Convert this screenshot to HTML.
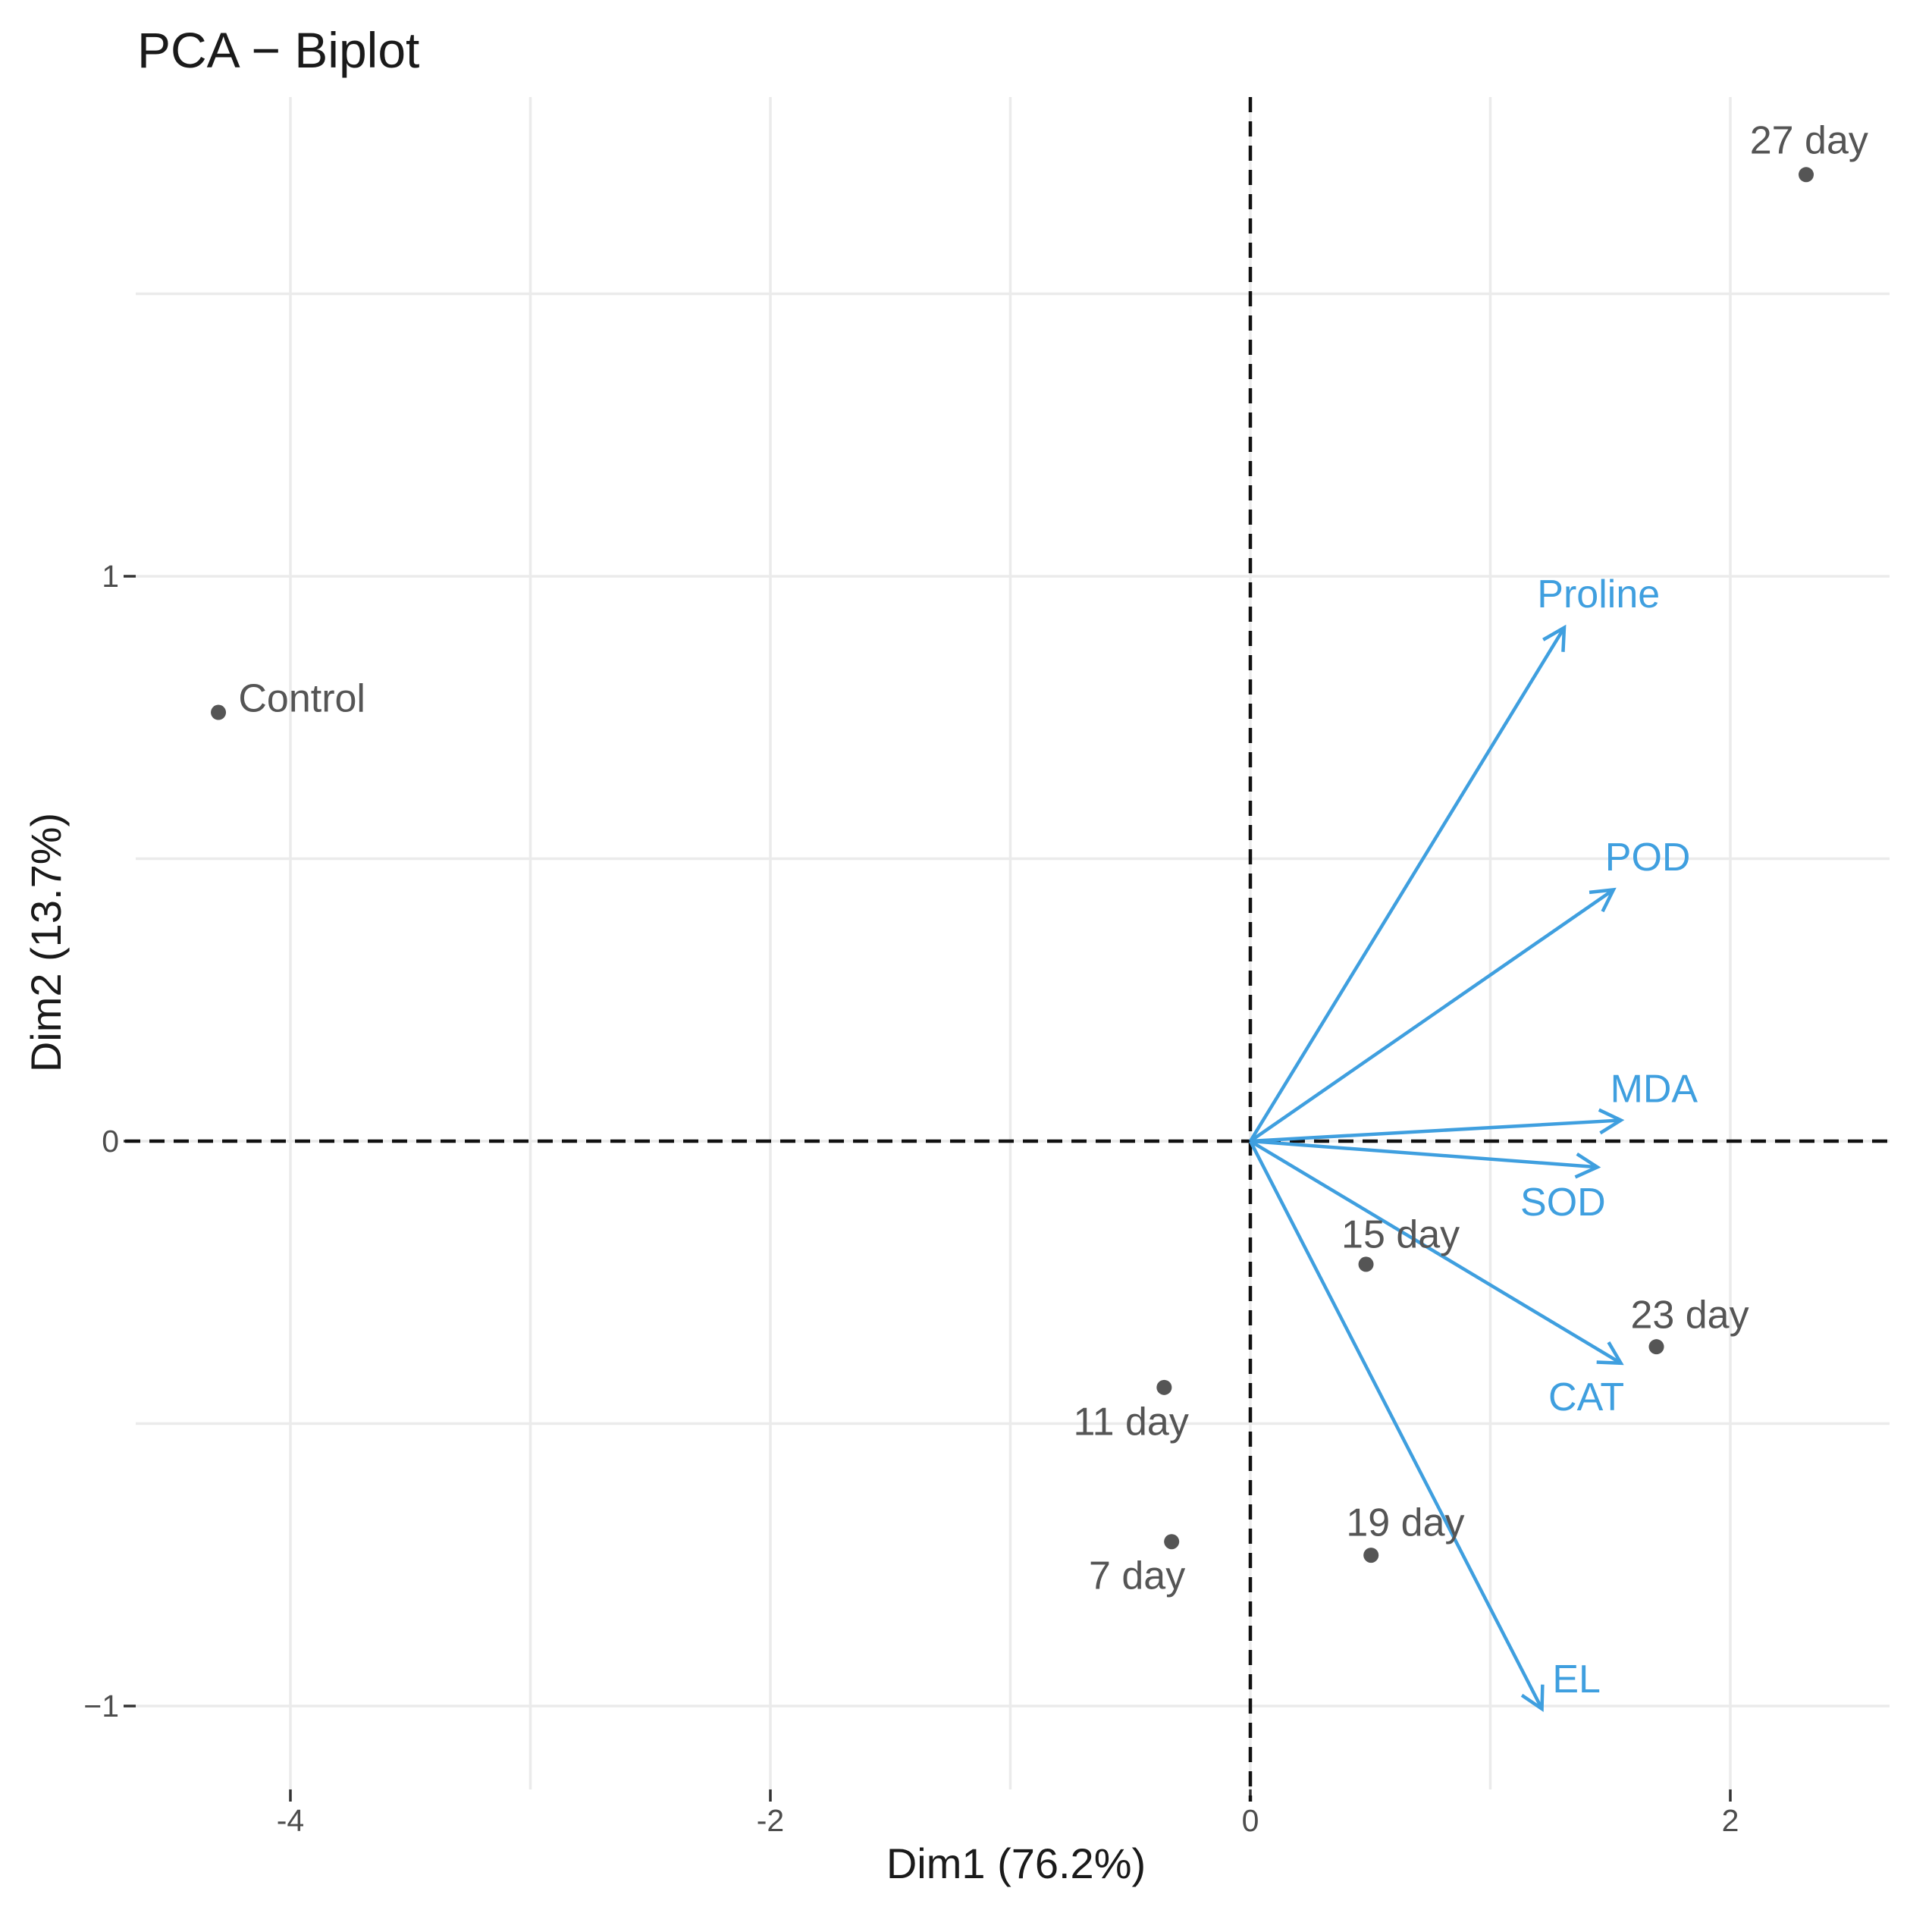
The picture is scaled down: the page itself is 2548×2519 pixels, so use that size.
<!DOCTYPE html>
<html><head><meta charset="utf-8"><style>
html,body{margin:0;padding:0;background:#fff;}
svg{display:block;font-family:"Liberation Sans",Arial,sans-serif;}
</style></head><body>
<svg id="chart" width="2548" height="2519" viewBox="0 0 2548 2519" xmlns="http://www.w3.org/2000/svg">
<text x="181" y="89" font-size="66" fill="#1a1a1a">PCA − Biplot</text>
<g id="grid"></g>
<g id="axes"></g>
<g id="arrows"></g>
<g id="points"></g>
<text x="1340" y="2477" font-size="56" fill="#1a1a1a" text-anchor="middle">Dim1 (76.2%)</text>
<text x="80" y="1243" font-size="56" fill="#1a1a1a" text-anchor="middle" transform="rotate(-90 80 1243)">Dim2 (13.7%)</text>
</svg>
<script>
// individuals
const indNames = ["Control","7 day","11 day","15 day","19 day","23 day","27 day"];
const indX = [-4.30,-0.328,-0.359,0.482,0.503,1.692,2.316];
const indY = [0.759,-0.709,-0.436,-0.218,-0.733,-0.364,1.711];
const indLabelX = [-3.952,-0.472,-0.497,0.626,0.646,1.831,2.328];
const indLabelY = [0.783,-0.770,-0.497,-0.166,-0.676,-0.308,1.771];
// variables
const varNames = ["Proline","POD","MDA","SOD","CAT","EL"];
const varX = [1.308,1.513,1.544,1.446,1.544,1.215];
const varY = [0.909,0.445,0.037,-0.046,-0.393,-1.005];
const varLabelX = [1.451,1.656,1.682,1.303,1.400,1.359];
const varLabelY = [0.968,0.502,0.092,-0.109,-0.454,-0.953];
// ticks
const xTicks = [-4,-2,0,2];
const xTickLabels = ["-4","-2","0","2"];
const xGrid = [-4,-3,-2,-1,0,1,2];
const yTicks = [-1,0,1];
const yTickLabels = ["−1","0","1"];
const yGrid = [-1,-0.5,0,0.5,1,1.5];

const L=179,R=2492,T=128,B=2360;
const x0=1649, xu=316.5, y0=1505, yu=745;
const sx=v=>x0+v*xu, sy=v=>y0-v*yu;
const NS="http://www.w3.org/2000/svg";
function mk(tag,attrs,parent){const e=document.createElementNS(NS,tag);for(const k in attrs)e.setAttribute(k,attrs[k]);parent.appendChild(e);return e;}
const grid=document.getElementById('grid'),axes=document.getElementById('axes'),arrows=document.getElementById('arrows'),points=document.getElementById('points');

xGrid.forEach(v=>{const l=mk('line',{x1:sx(v),x2:sx(v),y1:T,y2:B,stroke:'#ebebeb','stroke-width':3.5},grid);

});
yGrid.forEach(v=>{const l=mk('line',{x1:L,x2:R,y1:sy(v),y2:sy(v),stroke:'#ebebeb','stroke-width':3.5},grid);

});

xTicks.forEach((v,i)=>{const t=mk('line',{x1:sx(v),x2:sx(v),y1:B,y2:B+16,stroke:'#333','stroke-width':3.5},axes);


const tx=mk('text',{x:sx(v),y:B+55,'font-size':41,fill:'#4d4d4d','text-anchor':'middle'},axes);tx.textContent=xTickLabels[i];

});
yTicks.forEach((v,i)=>{const t=mk('line',{x1:L-16,x2:L,y1:sy(v),y2:sy(v),stroke:'#333','stroke-width':3.5},axes);


const tx=mk('text',{x:L-22,y:sy(v)+14,'font-size':41,fill:'#4d4d4d','text-anchor':'end'},axes);tx.textContent=yTickLabels[i];

});

const hz=mk('line',{x1:165,x2:R,y1:sy(0),y2:sy(0),stroke:'#111','stroke-width':4.5,'stroke-dasharray':'20 12'},axes);


const vz=mk('line',{x1:sx(0),x2:sx(0),y1:T,y2:B+16,stroke:'#111','stroke-width':4.5,'stroke-dasharray':'20 12'},axes);



const blue='#3f9fdf';
varNames.forEach((n,i)=>{
 const x1=sx(0),y1=sy(0),x2=sx(varX[i]),y2=sy(varY[i]);
 const g=mk('g',{},arrows);
 
 
 mk('line',{x1,y1,x2,y2,stroke:blue,'stroke-width':4.5},g);
 const a=Math.atan2(y2-y1,x2-x1),h=32,s=0.5;
 mk('polyline',{points:`${x2-h*Math.cos(a-s)},${y2-h*Math.sin(a-s)} ${x2},${y2} ${x2-h*Math.cos(a+s)},${y2-h*Math.sin(a+s)}`,fill:'none',stroke:blue,'stroke-width':4.5},g);
 const t=mk('text',{x:sx(varLabelX[i]),y:sy(varLabelY[i]),'font-size':52,fill:blue,'text-anchor':'middle','dominant-baseline':'central'},arrows);
 t.textContent=n;
 
 
});

indNames.forEach((n,i)=>{
 const c=mk('circle',{cx:sx(indX[i]),cy:sy(indY[i]),r:10,fill:'#555'},points);
 
 
 const t=mk('text',{x:sx(indLabelX[i]),y:sy(indLabelY[i]),'font-size':52,fill:'#555','text-anchor':'middle','dominant-baseline':'central'},points);
 t.textContent=n;
 
 
});
</script>
</body></html>
